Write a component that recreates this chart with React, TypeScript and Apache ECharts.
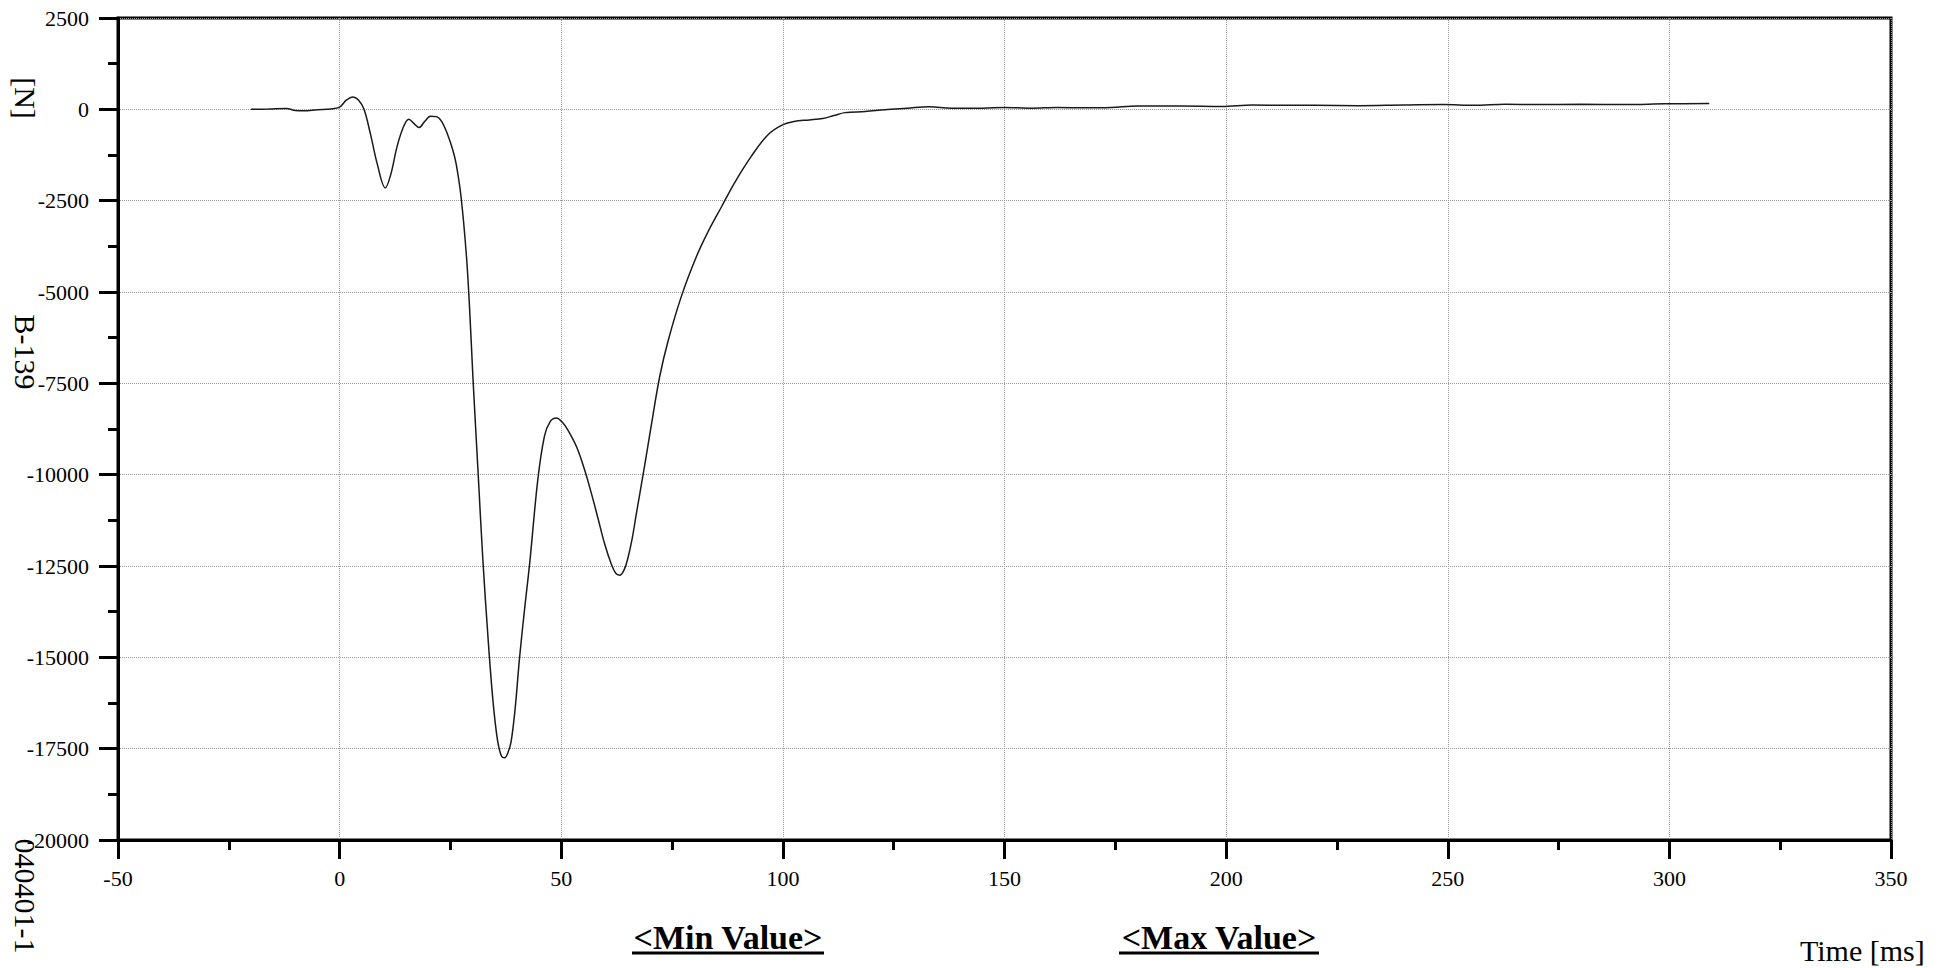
import React, { useEffect, useRef } from "react";
import * as echarts from "echarts";

const timeMs: number[] = [
  -20, -16, -12, -10, -8, -5, -2, 0, 1.5, 3, 4.2, 5.5, 7, 8.5, 10.3, 11.5, 13, 14.5, 15.6, 16.8,
  17.9, 19.2, 20.5, 21.8, 23, 24.4, 25.5, 26.3, 27.4, 28.6, 29.3, 30.1, 31.2, 32.3, 33.5, 34.6,
  35.6, 36.5, 37.2, 38, 38.7, 39.6, 40.6, 41.8, 42.9, 44.7, 46.2, 47.5, 48.9, 50.2, 51.5, 53.5,
  55.3, 57, 58.3, 59.8, 61.3, 62.3, 63.2, 64.2, 65, 66, 66.9, 68.8, 70.3, 72.2, 74.1, 77.1, 80.5,
  83.1, 86.1, 89.1, 92.9, 96.6, 100, 102.5, 106, 109, 111.5, 114, 118.6, 123, 128, 133, 138, 145,
  150, 156, 162, 168, 174, 180, 190, 199, 206, 213, 220, 230, 240, 249, 256, 263, 270, 280, 290,
  299, 309,
];

const forceN: number[] = [
  0, 10, 25, -30, -40, -10, 10, 60, 250, 340, 260, 0, -700, -1500, -2150, -1800, -1000, -450, -270,
  -390, -500, -330, -190, -200, -330, -700, -1100, -1500, -2400, -4000, -5400, -7400, -9850,
  -12300, -14500, -16200, -17250, -17700, -17750, -17600, -17300, -16400, -15000, -13600, -12400,
  -10150, -8950, -8550, -8450, -8560, -8780, -9250, -9880, -10600, -11200, -11900, -12450, -12700,
  -12750, -12600, -12300, -11750, -11100, -9760, -8660, -7320, -6340, -5120, -4030, -3355, -2680,
  -2010, -1280, -700, -420, -330, -290, -250, -170, -90, -60, -10, 30, 70, 30, 30, 50, 30, 50, 40,
  50, 90, 90, 80, 120, 110, 110, 100, 120, 130, 110, 140, 130, 140, 130, 150, 160,
];

const xRange = { min: -50, max: 350, interval: 50 };
const yRange = { min: -20000, max: 2500, interval: 2500 };

const axisTitleX = "Time [ms]";
const axisTitleY = "[N]";
const sideLabels = ["B-139", "040401-1"];
const footerLabels = ["<Min Value>", "<Max Value>"];

const SERIF = "Liberation Serif";

export default function App() {
  const ref = useRef<HTMLDivElement>(null);

  useEffect(() => {
    document.body.style.margin = "0";
    if (!ref.current) return;
    const chart = echarts.init(ref.current, null, { renderer: "svg" });
    const data = timeMs.map((t, i) => [t, forceN[i]]);

    const axisCommon = {
      axisLine: { show: true, onZero: false, lineStyle: { color: "#000", width: 3 } },
      axisTick: { show: true, inside: false, length: 19, lineStyle: { color: "#000", width: 3 } },
      minorTick: { show: true, splitNumber: 2, length: 10, lineStyle: { color: "#000", width: 3 } },
      splitLine: { show: true, lineStyle: { color: "#9a9a9a", width: 1, type: "dotted" } },
      axisLabel: {
        color: "#000",
        fontSize: 22,
        fontFamily: SERIF,
        formatter: (v: number) => String(v),
      },
    };

    const underline = (x1: number, x2: number, y: number) => ({
      type: "line",
      shape: { x1, y1: y, x2, y2: y },
      style: { stroke: "#000", lineWidth: 3 },
    });

    chart.setOption({
      animation: false,
      backgroundColor: "#fff",
      textStyle: { fontFamily: SERIF },
      grid: {
        left: 118,
        top: 18,
        width: 1773,
        height: 822,
        show: true,
        borderColor: "#000",
        borderWidth: 3,
        backgroundColor: "transparent",
      },
      xAxis: {
        type: "value",
        min: xRange.min,
        max: xRange.max,
        interval: xRange.interval,
        ...axisCommon,
        axisLabel: { ...axisCommon.axisLabel, margin: 27 },
      },
      yAxis: {
        type: "value",
        min: yRange.min,
        max: yRange.max,
        interval: yRange.interval,
        ...axisCommon,
        axisLabel: { ...axisCommon.axisLabel, margin: 29 },
      },
      series: [
        {
          type: "line",
          data,
          showSymbol: false,
          smooth: 0.35,
          lineStyle: { color: "#1a1a1a", width: 1.5 },
        },
      ],
      graphic: [
        {
          type: "text",
          x: 25,
          y: 98,
          rotation: -Math.PI / 2,
          style: { text: axisTitleY, fontSize: 30, fontFamily: SERIF, fill: "#000", align: "center", verticalAlign: "middle" },
        },
        {
          type: "text",
          x: 25,
          y: 352,
          rotation: -Math.PI / 2,
          style: { text: sideLabels[0], fontSize: 30, fontFamily: SERIF, fill: "#000", align: "center", verticalAlign: "middle" },
        },
        {
          type: "text",
          x: 25,
          y: 896,
          rotation: -Math.PI / 2,
          style: { text: sideLabels[1], fontSize: 30, fontFamily: SERIF, fill: "#000", align: "center", verticalAlign: "middle" },
        },
        {
          type: "text",
          x: 1800,
          y: 950,
          style: { text: axisTitleX, fontSize: 30, fontFamily: SERIF, fill: "#000", align: "left", verticalAlign: "middle" },
        },
        {
          type: "text",
          x: 728,
          y: 937,
          style: { text: footerLabels[0], fontSize: 34, fontWeight: "bold", fontFamily: SERIF, fill: "#000", align: "center", verticalAlign: "middle" },
        },
        underline(632, 824, 953),
        {
          type: "text",
          x: 1219,
          y: 937,
          style: { text: footerLabels[1], fontSize: 34, fontWeight: "bold", fontFamily: SERIF, fill: "#000", align: "center", verticalAlign: "middle" },
        },
        underline(1119, 1319, 953),
      ],
    });

    return () => chart.dispose();
  }, []);

  return <div ref={ref} style={{ width: 1959, height: 968 }} />;
}
